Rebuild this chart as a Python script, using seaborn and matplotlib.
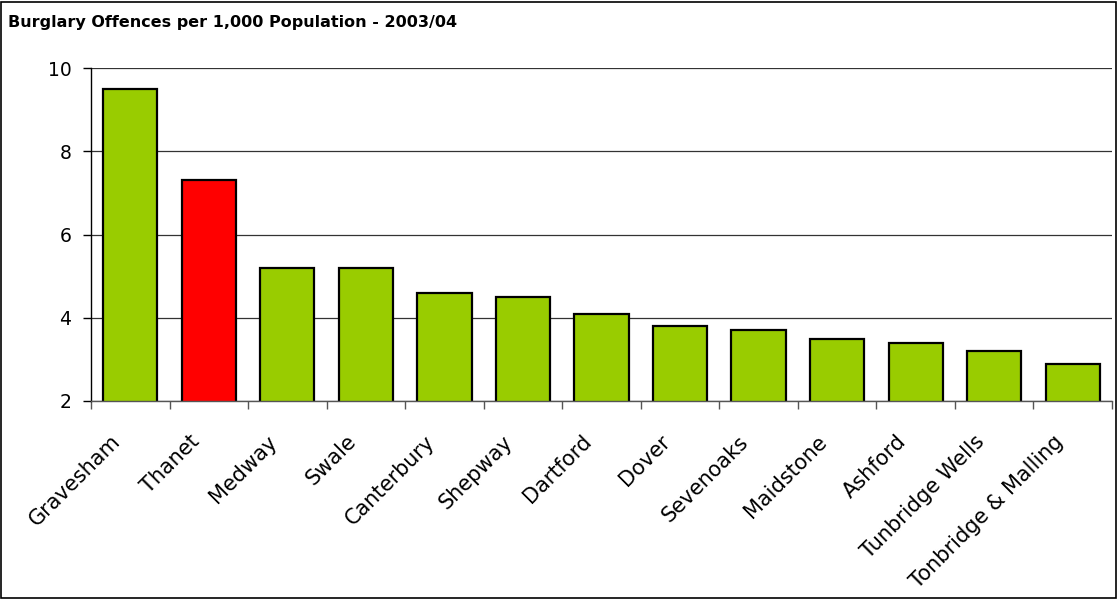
import matplotlib
matplotlib.use("Agg")
import matplotlib.pyplot as plt
import seaborn as sns
import pandas as pd
import numpy as np
from matplotlib.patches import Rectangle
from matplotlib.ticker import FixedLocator

districts = ["Gravesham", "Thanet", "Medway", "Swale", "Canterbury", "Shepway",
             "Dartford", "Dover", "Sevenoaks", "Maidstone", "Ashford",
             "Tunbridge Wells", "Tonbridge & Malling"]
rates = [9.5, 7.3, 5.2, 5.2, 4.6, 4.5, 4.1, 3.8, 3.7, 3.5, 3.4, 3.2, 2.9]
highlight = "Thanet"
title = "Burglary Offences per 1,000 Population - 2003/04"
yticks = [2, 4, 6, 8, 10]

sns.set_theme(style="white")
plt.rcParams['font.family'] = ['DejaVu Sans']
plt.rcParams['text.color'] = 'black'
plt.rcParams['xtick.color'] = 'black'
plt.rcParams['ytick.color'] = 'black'

df = pd.DataFrame({"district": districts, "rate": rates})
palette = {d: ("#FF0000" if d == highlight else "#99CC00") for d in districts}

fig = plt.figure(figsize=(11.18, 5.99), dpi=100)
ax = fig.add_axes([91/1118, 1 - 401/599, (1112-91)/1118, (401-68)/599])

sns.barplot(data=df, x="district", y="rate", hue="district", palette=palette,
            legend=False, ax=ax, width=0.69, edgecolor="black", linewidth=1.6,
            saturation=1)

ax.set_ylim(2, 10)
ax.set_xlim(-0.5, len(districts) - 0.5)
ax.set_yticks(yticks)
ax.set_yticklabels([str(t) for t in yticks], fontsize=13.5, color="black")
ax.yaxis.grid(True, color="#333333", linewidth=0.9)
ax.set_axisbelow(True)
ax.set_xlabel("")
ax.set_ylabel("")

# category labels placed under each category position, rotated like the reference
ax.set_xticks(range(len(districts)))
ax.set_xticklabels([])
for i, name in enumerate(districts):
    ax.annotate(name, xy=(i, 0), xycoords=ax.get_xaxis_transform(),
                xytext=(-13, -37.5), textcoords="offset pixels",
                rotation=45, ha="right", va="center", rotation_mode="anchor",
                fontsize=15, color="black", annotation_clip=False)

ax.xaxis.set_minor_locator(FixedLocator(np.arange(-0.5, len(districts), 1.0)))
ax.tick_params(axis="x", which="major", length=0)
ax.tick_params(axis="x", which="minor", length=6, width=1, color="#555555", direction="out", bottom=True)
ax.tick_params(axis="y", which="major", length=6, width=1, color="black", direction="out", left=True, pad=8)

for s in ["top", "right"]:
    ax.spines[s].set_visible(False)
ax.spines["left"].set_color("black")
ax.spines["left"].set_linewidth(1)
ax.spines["bottom"].set_color("#555555")
ax.spines["bottom"].set_linewidth(1)

fig.text(8/1118, 1 - 22/599, title, fontsize=11.5, fontweight="bold", va="center", ha="left", color="black")
fig.patches.append(Rectangle((0.001, 0.002), 0.997, 0.995, transform=fig.transFigure,
                             fill=False, edgecolor="black", linewidth=1.2))

fig.savefig("out.png", dpi=100)
